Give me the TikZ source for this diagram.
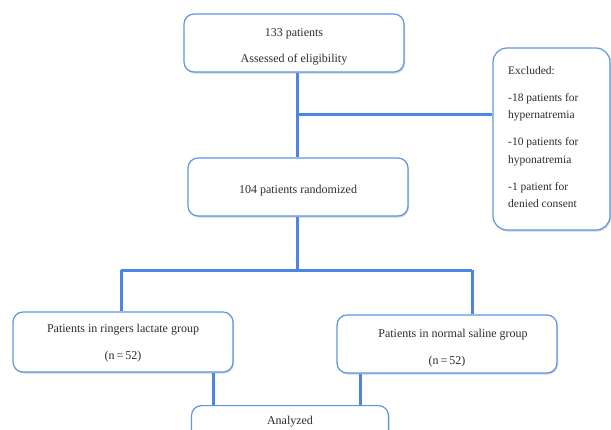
\documentclass[tikz,border=0pt]{standalone}
\usepackage{fontspec}
\setmainfont{Liberation Serif}
\usetikzlibrary{shadows}
\definecolor{boxblue}{RGB}{95,150,225}
\definecolor{lineblue}{RGB}{75,135,225}
\definecolor{txt}{RGB}{45,45,45}
\tikzset{
  flowbox/.style={draw=boxblue, line width=1.2pt, rounded corners=10pt, fill=white,
    drop shadow={shadow xshift=1pt, shadow yshift=-1.5pt, opacity=0.35, fill=gray},
    text=txt, align=center, inner sep=0pt,
    font=\fontsize{12}{13}\selectfont},
  conn/.style={draw=lineblue, line width=3pt},
}
\begin{document}
\begin{tikzpicture}[x=1pt,y=-1pt]
\useasboundingbox (0,0) rectangle (611,429);
\clip (0,0) rectangle (611,429);
\fill[white] (0,0) rectangle (611,429);
% boxes
\node[flowbox, minimum width=220, text height=48pt, text depth=10pt] (b1) at (294,43)
  {133 patients\\[13pt]Assessed of eligibility};
\node[flowbox, minimum width=220, text height=35pt, text depth=23pt] (b2) at (298,187)
  {104 patients randomized};
\node[flowbox, rounded corners=14pt, minimum width=117, minimum height=182] (ex) at (551.5,139) {};
\node[anchor=north west, align=left, text=txt, inner sep=0pt,
  font=\fontsize{11.5}{17.5}\selectfont] (extext) at (508,66)
  {Excluded:\\[9.5pt]-18 patients for\\hypernatremia\\[9.5pt]-10 patients for\\hyponatremia\\[9.5pt]-1 patient for\\denied consent};
\node[flowbox, minimum width=220, text height=47pt, text depth=13pt] (gl) at (123,342)
  {Patients in ringers lactate group\\[14pt](n\,=\,52)};
\node[flowbox, minimum width=220, text height=49pt, text depth=9pt] (gr) at (447,344)
  {\hspace*{12pt}Patients in normal saline group\\[14pt](n\,=\,52)};
\node[flowbox, anchor=north, minimum width=197, text height=11pt, text depth=40pt,
  inner ysep=8pt] (an) at (290,405) {Analyzed};
% junctions
\coordinate (j1) at (297,114);
\coordinate (jl) at (121,270);
\coordinate (jr) at (472,270);
\coordinate (xl) at (213,390);
\coordinate (xr) at (360,390);
% connectors
\draw[conn] (b1.south -| j1) -- (b2.north -| j1);
\draw[conn] (j1) -- (ex.west |- j1);
\draw[conn] (b2.south -| j1) -- (j1 |- jl);
\draw[conn] (jl) -- (jr);
\draw[conn] (jl) -- (jl |- gl.north);
\draw[conn] (jr) -- (jr |- gr.north);
\draw[conn] (gl.south -| xl) -- (an.north -| xl);
\draw[conn] (gr.south -| xr) -- (an.north -| xr);
\end{tikzpicture}
\end{document}
